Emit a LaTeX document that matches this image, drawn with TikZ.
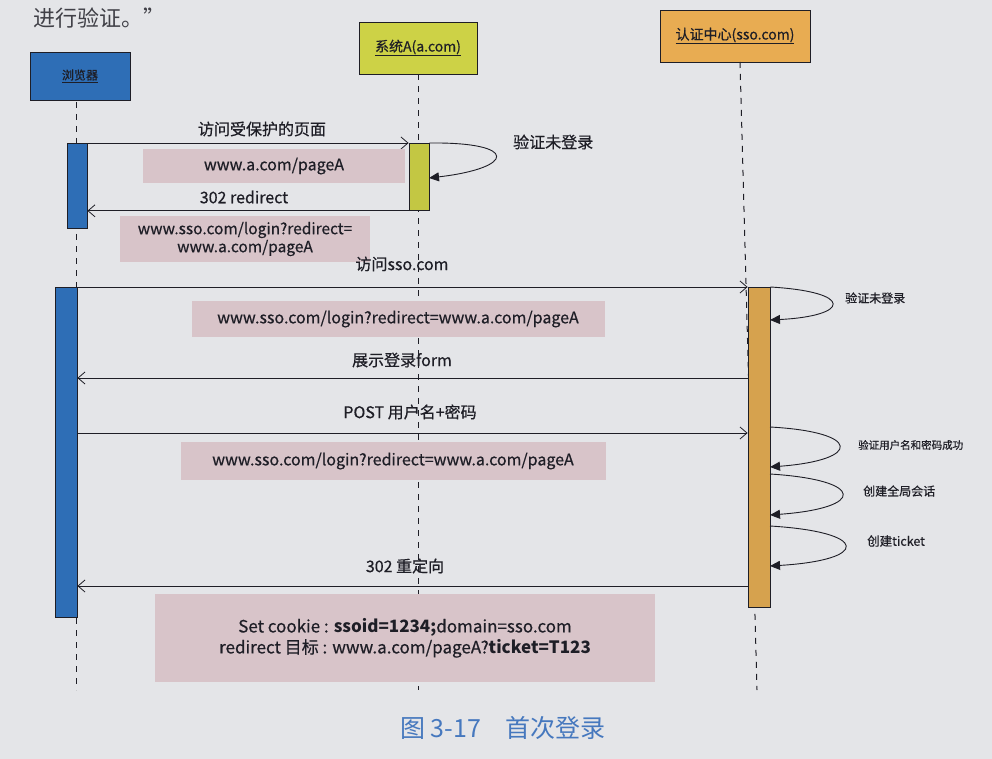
\documentclass[tikz,border=0pt]{standalone}
\usepackage{fontspec}
\setmainfont{Noto Sans CJK SC}[UprightFeatures={FakeBold=0.5}]
\newfontfamily\plaincjk{Noto Sans CJK SC}
\usetikzlibrary{arrows.meta}
\definecolor{paper}{RGB}{228,229,232}
\definecolor{browserblue}{RGB}{46,110,182}
\definecolor{sysyellow}{RGB}{205,210,70}
\definecolor{ssoorange}{RGB}{232,172,82}
\definecolor{ssoact}{RGB}{214,162,78}
\definecolor{notepink}{RGB}{216,196,201}
\definecolor{inkdark}{RGB}{30,30,38}
\definecolor{captionblue}{RGB}{70,120,190}
\tikzset{
  headbox/.style={draw=inkdark, line width=0.8pt, minimum height=50, inner sep=2pt, text=inkdark},
  actbar/.style={draw=inkdark, line width=0.8pt, anchor=north, minimum width=20, inner sep=0pt},
  lifeline/.style={draw=inkdark, line width=1pt, dash pattern=on 6pt off 6pt},
  msg/.style={draw=inkdark, line width=0.8pt, -{Straight Barb[length=7pt,width=12pt]}},
  selfloop/.style={draw=inkdark, line width=0.9pt, -{Triangle[length=10pt,width=9pt]}},
  msglabel/.style={text=inkdark, font=\fontsize{16}{18}\selectfont, inner sep=1pt},
  looplabel/.style={text=inkdark, inner sep=1pt, anchor=west},
  note/.style={fill=notepink, draw=none, text=inkdark, font=\fontsize{16}{20}\selectfont, align=center, inner sep=0pt}
}
\begin{document}
\begin{tikzpicture}[x=1pt,y=-1pt]
\fill[paper] (0,0) rectangle (992,759);
\useasboundingbox (0,0) rectangle (992,759);

% page text and caption
\node[text=inkdark!85, anchor=west, font=\plaincjk\fontsize{22}{24}\selectfont, inner sep=0pt] (pagetext) at (33,18) {进行验证。”};
\node[text=captionblue, font=\plaincjk\fontsize{25}{27}\selectfont, inner sep=0pt] (caption) at (503,728) {图 3-17\quad 首次登录};

% participants
\node[headbox, fill=browserblue, minimum width=100, minimum height=48, font=\fontsize{12}{14}\selectfont] (browser) at (80,76) {\underline{浏览器}};
\node[headbox, fill=sysyellow, minimum width=118, minimum height=52, font=\fontsize{14}{16}\selectfont] (sysA) at (418,48) {\underline{系统A(a.com)}};
\node[headbox, fill=ssoorange, minimum width=150, minimum height=52, font=\fontsize{14}{16}\selectfont] (sso) at (735,36) {\underline{认证中心(sso.com)}};

\coordinate (bEnd) at (76,690);
\coordinate (aEnd) at (418,690);
\coordinate (sEnd) at (757,690);
\coordinate (bTop) at (76,102);
\coordinate (sTop) at (740,62);
\draw[lifeline] (bTop) -- (bEnd);
\draw[lifeline] (sysA.south) -- (aEnd);
\draw[lifeline] (sTop) -- (sEnd);

% activation bars
\node[actbar, fill=browserblue, minimum height=85] (act1) at (77,143) {};
\node[actbar, fill=sysyellow!95!black, minimum height=67] (actA) at (419,143) {};
\node[actbar, fill=browserblue, minimum height=330, minimum width=22] (act2) at (66,287) {};
\node[actbar, fill=ssoact, minimum height=320, minimum width=22] (actS) at (759,287) {};

% message 1
\draw[msg] (act1.north east) -- (actA.north west);
\node[msglabel] (l1) at (262,129) {访问受保护的页面};
\node[note, minimum width=262, minimum height=34] (n1) at (274,166) {www.a.com/pageA};

% self loop on system A
\coordinate (la) at (429,178);
\draw[selfloop] (actA.north east) .. controls (520,142) and (515,168) .. (la);
\node[looplabel, font=\fontsize{16}{18}\selectfont] (la1) at (512,142) {验证未登录};

% message 2
\draw[msg] (actA.south west) -- (act1.east |- actA.south);
\node[msglabel] (l2) at (244,197) {302 redirect};
\node[note, minimum width=250, minimum height=46, font=\fontsize{15.5}{18}\selectfont] (n2) at (245,239) {www.sso.com/login?redirect=\\www.a.com/pageA};

% message 3
\draw[msg] (act2.north east) -- (actS.north west);
\node[msglabel] (l3) at (402,264) {访问sso.com};
\coordinate (ls1) at (770,320);
\draw[selfloop] (actS.north east) .. controls (855,292) and (850,316) .. (ls1);
\node[looplabel, font=\fontsize{12}{14}\selectfont] (ls1t) at (844,298) {验证未登录};
\node[note, minimum width=413, minimum height=36] (n3) at (398,319) {www.sso.com/login?redirect=www.a.com/pageA};

% message 4
\coordinate (m4) at (0,378);
\draw[msg] (actS.west |- m4) -- (act2.east |- m4);
\node[msglabel] (l4) at (402,360) {展示登录form};

% message 5
\coordinate (m5) at (0,433);
\draw[msg] (act2.east |- m5) -- (actS.west |- m5);
\node[msglabel] (l5) at (410,412) {POST 用户名+密码};
\node[note, minimum width=425, minimum height=38] (n4) at (393,461) {www.sso.com/login?redirect=www.a.com/pageA};

% self loops on SSO
\coordinate (s2a) at (770,427);
\coordinate (s2b) at (770,467);
\draw[selfloop] (s2a) .. controls (862,432) and (862,460) .. (s2b);
\node[looplabel, font=\fontsize{10.5}{12}\selectfont] (ls2t) at (857,445) {验证用户名和密码成功};
\coordinate (s3a) at (770,474);
\coordinate (s3b) at (770,515);
\draw[selfloop] (s3a) .. controls (866,480) and (866,508) .. (s3b);
\node[looplabel, font=\fontsize{12}{14}\selectfont] (ls3t) at (862,491) {创建全局会话};
\coordinate (s4a) at (770,526);
\coordinate (s4b) at (770,566);
\draw[selfloop] (s4a) .. controls (870,532) and (870,560) .. (s4b);
\node[looplabel, font=\fontsize{12.5}{14}\selectfont] (ls4t) at (866,541) {创建ticket};

% message 6
\coordinate (m6) at (0,586);
\draw[msg] (actS.west |- m6) -- (act2.east |- m6);
\node[msglabel] (l6) at (405,566) {302 重定向};
\node[note, minimum width=500, minimum height=88, font=\fontsize{17}{21}\selectfont] (n5) at (405,638) {Set cookie : \textbf{ssoid=1234;}domain=sso.com\\redirect 目标 : www.a.com/pageA?\textbf{ticket=T123}};
\end{tikzpicture}
\end{document}
